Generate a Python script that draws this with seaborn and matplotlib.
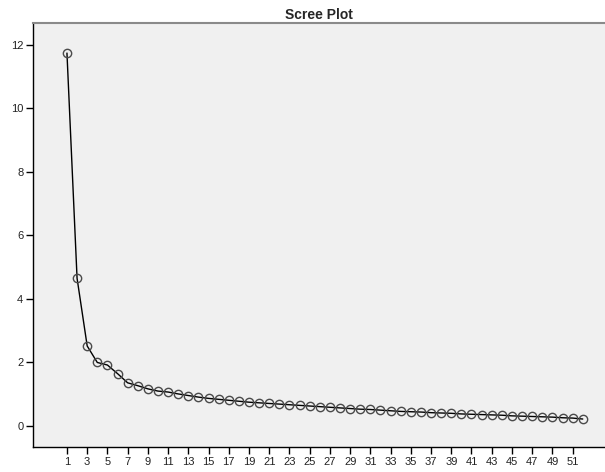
import numpy as np
import pandas as pd
import matplotlib
matplotlib.use("Agg")
import matplotlib.pyplot as plt
import seaborn as sns

# component number and eigenvalue
components = list(range(1, 53))
eigenvalues = [
    11.74, 4.65, 2.52, 2.00, 1.92, 1.65, 1.36, 1.27, 1.17, 1.10,
    1.07, 1.01, 0.96, 0.91, 0.87, 0.84, 0.81, 0.78, 0.75, 0.73,
    0.71, 0.69, 0.67, 0.65, 0.63, 0.61, 0.59, 0.57, 0.55, 0.53,
    0.52, 0.50, 0.48, 0.46, 0.45, 0.44, 0.42, 0.41, 0.40, 0.38,
    0.37, 0.36, 0.35, 0.34, 0.32, 0.31, 0.30, 0.29, 0.28, 0.26,
    0.25, 0.22,
]
x_ticks = list(range(1, 52, 2))
y_ticks = [0, 2, 4, 6, 8, 10, 12]

df = pd.DataFrame({"Component Number": components, "Eigenvalue": eigenvalues})

sns.set_style("white")
plt.rcParams["font.family"] = ["Liberation Sans", "DejaVu Sans"]

fig = plt.figure(figsize=(6.05, 4.72), dpi=100)
ax = fig.add_axes([0.0545, 0.053, 0.9455, 0.8985])
ax.set_facecolor("#f0f0f0")

sns.lineplot(
    data=df, x="Component Number", y="Eigenvalue", ax=ax,
    color="black", linewidth=1.0, marker="o", markersize=6,
    markerfacecolor="none", markeredgecolor="#4a4a4a", markeredgewidth=1.0,
)

ax.set_xlim(-2.36, 54.2)
ax.set_ylim(-0.66, 12.69)
ax.set_xticks(x_ticks)
ax.set_yticks(y_ticks)
ax.tick_params(axis="both", direction="out", length=5, width=1, color="black",
               labelsize=8, labelcolor="#222222", left=True, bottom=True, pad=2)
ax.set_xlabel("")
ax.set_ylabel("")

for side in ("left", "bottom"):
    ax.spines[side].set_color("black")
    ax.spines[side].set_linewidth(1)
ax.spines["top"].set_color("#8a8a8a")
ax.spines["top"].set_linewidth(1.5)
ax.spines["right"].set_visible(False)

ax.set_title("Scree Plot", fontsize=10, fontweight="bold", pad=3)

fig.savefig("out.png", dpi=100)
